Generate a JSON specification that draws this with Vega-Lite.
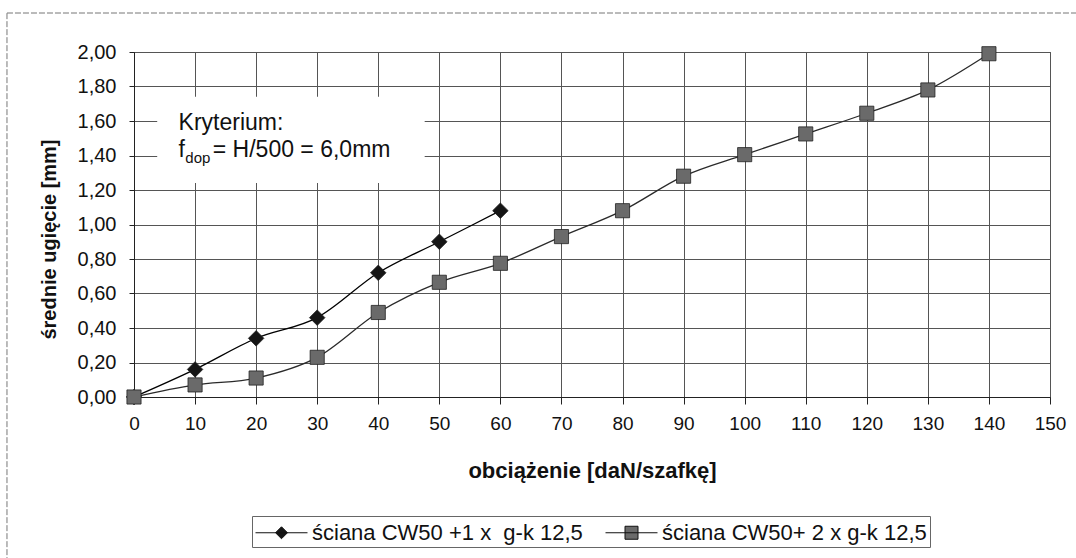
{
  "$schema": "https://vega.github.io/schema/vega-lite/v6.json",
  "width": 916,
  "height": 345,
  "autosize": {"type": "none"},
  "padding": {"left": 134, "top": 52, "right": 26, "bottom": 161},
  "background": "white",
  "config": {
    "font": "Liberation Sans",
    "view": {"stroke": "#333", "strokeWidth": 1}
  },
  "datasets": {
    "pts": [
      {"load": 0, "defl": 0.0, "series": "ściana CW50 +1 x\u00a0 g-k 12,5"},
      {"load": 10, "defl": 0.16, "series": "ściana CW50 +1 x\u00a0 g-k 12,5"},
      {"load": 20, "defl": 0.34, "series": "ściana CW50 +1 x\u00a0 g-k 12,5"},
      {"load": 30, "defl": 0.46, "series": "ściana CW50 +1 x\u00a0 g-k 12,5"},
      {"load": 40, "defl": 0.72, "series": "ściana CW50 +1 x\u00a0 g-k 12,5"},
      {"load": 50, "defl": 0.90, "series": "ściana CW50 +1 x\u00a0 g-k 12,5"},
      {"load": 60, "defl": 1.08, "series": "ściana CW50 +1 x\u00a0 g-k 12,5"},
      {"load": 0, "defl": 0.0, "series": "ściana CW50+ 2 x g-k 12,5"},
      {"load": 10, "defl": 0.07, "series": "ściana CW50+ 2 x g-k 12,5"},
      {"load": 20, "defl": 0.11, "series": "ściana CW50+ 2 x g-k 12,5"},
      {"load": 30, "defl": 0.23, "series": "ściana CW50+ 2 x g-k 12,5"},
      {"load": 40, "defl": 0.49, "series": "ściana CW50+ 2 x g-k 12,5"},
      {"load": 50, "defl": 0.665, "series": "ściana CW50+ 2 x g-k 12,5"},
      {"load": 60, "defl": 0.775, "series": "ściana CW50+ 2 x g-k 12,5"},
      {"load": 70, "defl": 0.93, "series": "ściana CW50+ 2 x g-k 12,5"},
      {"load": 80, "defl": 1.08, "series": "ściana CW50+ 2 x g-k 12,5"},
      {"load": 90, "defl": 1.28, "series": "ściana CW50+ 2 x g-k 12,5"},
      {"load": 100, "defl": 1.405, "series": "ściana CW50+ 2 x g-k 12,5"},
      {"load": 110, "defl": 1.525, "series": "ściana CW50+ 2 x g-k 12,5"},
      {"load": 120, "defl": 1.645, "series": "ściana CW50+ 2 x g-k 12,5"},
      {"load": 130, "defl": 1.78, "series": "ściana CW50+ 2 x g-k 12,5"},
      {"load": 140, "defl": 1.99, "series": "ściana CW50+ 2 x g-k 12,5"}
    ],
    "notes": [
      {"load": 7.3, "defl": 1.548, "label": "Kryterium:", "kind": "main"},
      {"load": 7.3, "defl": 1.391, "label": "f", "kind": "main"},
      {"load": 8.4, "defl": 1.357, "label": "dop", "kind": "sub"},
      {"load": 12.9, "defl": 1.391, "label": "= H/500 = 6,0mm", "kind": "main"}
    ],
    "boxes": [
      {"kind": "note", "load": 3.8, "load2": 47.6, "defl": 1.24, "defl2": 1.74},
      {"kind": "frame", "load": -20.8, "load2": 160, "defl": -1.2, "defl2": 2.226}
    ]
  },
  "encoding": {
    "x": {
      "field": "load", "type": "quantitative",
      "scale": {"domain": [0, 150], "nice": false, "zero": false},
      "axis": {
        "values": [0, 10, 20, 30, 40, 50, 60, 70, 80, 90, 100, 110, 120, 130, 140, 150],
        "tickCount": 30,
        "grid": true, "gridColor": "#555", "gridWidth": 1,
        "domainColor": "#222", "tickColor": "#222", "tickSize": 7,
        "labelFontSize": 19, "labelPadding": 10, "labelColor": "#111", "labelFlush": false, "labelOverlap": false,
        "title": "obciążenie [daN/szafkę]", "titleFontSize": 22, "titleFontWeight": "bold",
        "titleColor": "#111", "titleY": 80, "titleBaseline": "alphabetic"
      }
    },
    "y": {
      "field": "defl", "type": "quantitative",
      "scale": {"domain": [0, 2], "nice": false},
      "axis": {
        "values": [0, 0.2, 0.4, 0.6, 0.8, 1, 1.2, 1.4, 1.6, 1.8, 2],
        "tickCount": 20,
        "labelExpr": "replace(format(datum.value, '.2f'), '.', ',')",
        "grid": true, "gridColor": "#555", "gridWidth": 1,
        "domainColor": "#222", "tickColor": "#222", "tickSize": 5,
        "labelFontSize": 20, "labelPadding": 13, "labelColor": "#111", "labelFlush": false, "labelOverlap": false,
        "title": "średnie ugięcie [mm]", "titleFontSize": 20, "titleFontWeight": "bold",
        "titleColor": "#111", "titleAngle": -90, "titleX": -79, "titleY": 187,
        "titleAlign": "center", "titleBaseline": "alphabetic"
      }
    }
  },
  "layer": [
    {
      "data": {"name": "boxes"},
      "transform": [{"filter": "datum.kind === 'note'"}],
      "mark": {"type": "rect", "fill": "white", "stroke": null},
      "encoding": {
        "x2": {"field": "load2"},
        "y2": {"field": "defl2"}
      }
    },
    {
      "data": {"name": "boxes"},
      "transform": [{"filter": "datum.kind === 'frame'"}],
      "mark": {"type": "rect", "fill": null, "fillOpacity": 0, "stroke": "#777", "strokeWidth": 1, "strokeDash": [6, 2], "clip": false},
      "encoding": {
        "x2": {"field": "load2"},
        "y2": {"field": "defl2"}
      }
    },
    {
      "data": {"name": "pts"},
      "mark": {"type": "line", "interpolate": "monotone", "strokeWidth": 1.3},
      "encoding": {
        "color": {
          "field": "series", "type": "nominal",
          "scale": {"domain": ["ściana CW50 +1 x\u00a0 g-k 12,5", "ściana CW50+ 2 x g-k 12,5"], "range": ["#000000", "#2a2a2a"]},
          "legend": null
        }
      }
    },
    {
      "data": {"name": "pts"},
      "mark": {"type": "point", "filled": true, "opacity": 1, "stroke": "#222", "strokeWidth": 0.8},
      "encoding": {
        "shape": {
          "field": "series", "type": "nominal",
          "scale": {"domain": ["ściana CW50 +1 x\u00a0 g-k 12,5", "ściana CW50+ 2 x g-k 12,5"], "range": ["diamond", "square"]},
          "legend": null
        },
        "size": {
          "field": "series", "type": "nominal",
          "scale": {"domain": ["ściana CW50 +1 x\u00a0 g-k 12,5", "ściana CW50+ 2 x g-k 12,5"], "range": [240, 200]},
          "legend": null
        },
        "fill": {
          "field": "series", "type": "nominal",
          "scale": {"domain": ["ściana CW50 +1 x\u00a0 g-k 12,5", "ściana CW50+ 2 x g-k 12,5"], "range": ["#151515", "#6a6a6a"]},
          "legend": null
        }
      }
    },
    {
      "data": {"name": "pts"},
      "mark": {"type": "point", "filled": true, "opacity": 0, "size": 676},
      "encoding": {
        "shape": {
          "field": "series", "type": "nominal",
          "scale": {
            "domain": ["ściana CW50 +1 x\u00a0 g-k 12,5", "ściana CW50+ 2 x g-k 12,5"],
            "range": [
              "M-1,0H3M1,-0.46L1.46,0L1,0.46L0.54,0Z",
              "M-1,0H3M0.5,-0.5H1.5V0.5H0.5Z"
            ]
          },
          "legend": {
            "title": null, "orient": "none", "legendX": 118, "legendY": 464,
            "direction": "horizontal", "columns": 2,
            "padding": 3, "strokeColor": "#666", "fillColor": "white",
            "labelFontSize": 22, "labelColor": "#111", "labelOffset": 30, "labelLimit": 0,
            "columnPadding": 20, "symbolSize": 676,
            "symbolStrokeColor": "#111", "symbolStrokeWidth": 1,
            "encode": {"symbols": {"update": {"opacity": {"value": 1}, "fillOpacity": {"value": 1}, "strokeOpacity": {"value": 1}, "stroke": {"value": "#111"}, "strokeWidth": {"value": 1}, "size": {"value": 676}}}}
          }
        },
        "fill": {
          "field": "series", "type": "nominal",
          "scale": {"domain": ["ściana CW50 +1 x\u00a0 g-k 12,5", "ściana CW50+ 2 x g-k 12,5"], "range": ["#151515", "#6a6a6a"]},
          "legend": {
            "title": null, "orient": "none", "legendX": 118, "legendY": 464,
            "direction": "horizontal", "columns": 2,
            "padding": 3, "strokeColor": "#666", "fillColor": "white",
            "labelFontSize": 22, "labelColor": "#111", "labelOffset": 30, "labelLimit": 0,
            "columnPadding": 20, "symbolSize": 676,
            "symbolStrokeColor": "#111", "symbolStrokeWidth": 1,
            "encode": {"symbols": {"update": {"opacity": {"value": 1}, "fillOpacity": {"value": 1}, "strokeOpacity": {"value": 1}, "stroke": {"value": "#111"}, "strokeWidth": {"value": 1}, "size": {"value": 676}}}}
          }
        }
      }
    },
    {
      "data": {"name": "notes"},
      "transform": [{"filter": "datum.kind === 'main'"}],
      "mark": {"type": "text", "align": "left", "baseline": "alphabetic", "fontSize": 23, "color": "#111", "font": "Liberation Sans"},
      "encoding": {
        "text": {"field": "label"}
      }
    },
    {
      "data": {"name": "notes"},
      "transform": [{"filter": "datum.kind === 'sub'"}],
      "mark": {"type": "text", "align": "left", "baseline": "alphabetic", "fontSize": 15, "color": "#111", "font": "Liberation Sans"},
      "encoding": {
        "text": {"field": "label"}
      }
    }
  ],
  "resolve": {"scale": {"shape": "independent", "fill": "independent", "size": "independent", "color": "independent"}, "legend": {"shape": "independent", "fill": "independent"}}
}
